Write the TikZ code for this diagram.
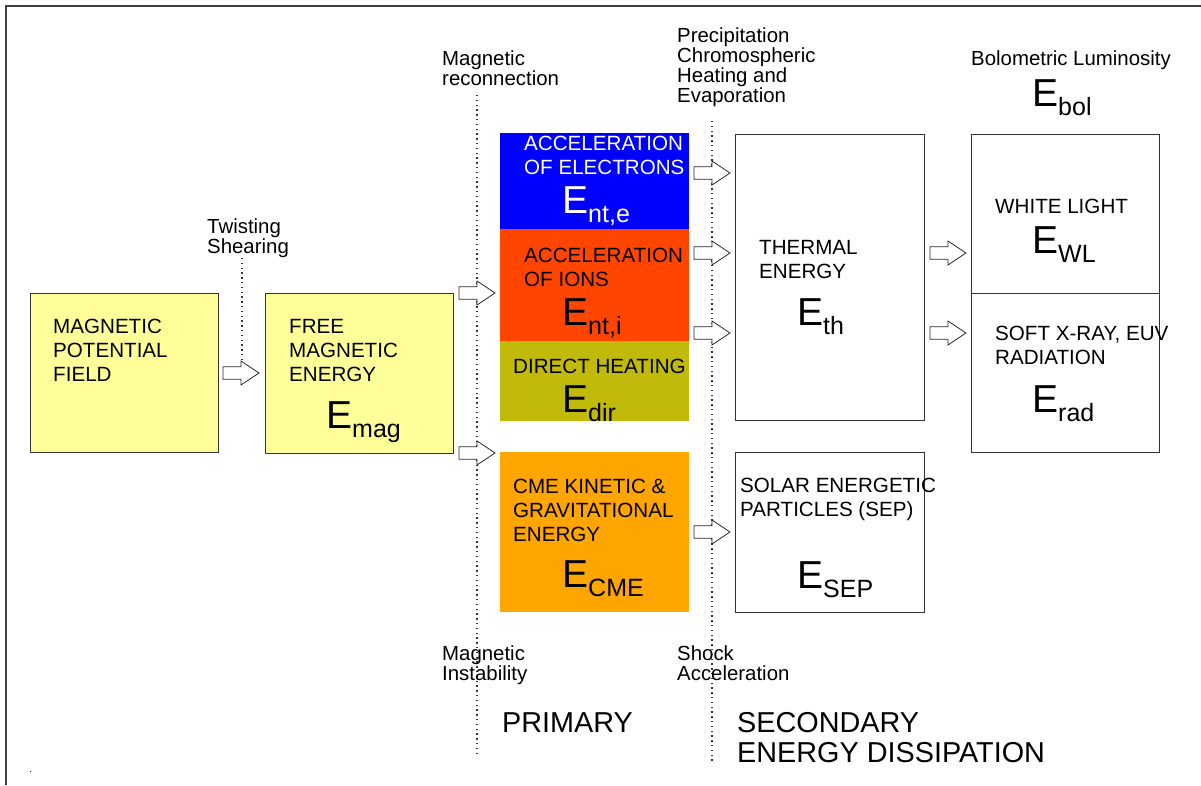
\documentclass[tikz,border=0pt]{standalone}
\usepackage{fontspec}
\setmainfont{Liberation Sans}
\begin{document}
\begin{tikzpicture}[x=1pt,y=-1pt,
  lbl/.style={anchor=base west, inner sep=0, font=\fontsize{20.4}{20}\selectfont, align=left},
  btxt/.style={anchor=base west, inner sep=0, font=\fontsize{20.6}{23.8}\selectfont, align=left},
  bigE/.style={anchor=base west, inner sep=0, font=\fontsize{39}{39}\selectfont},
  head/.style={anchor=base west, inner sep=0, font=\fontsize{28.8}{30}\selectfont, align=left},
  ybox/.style={draw=black!80, line width=0.8pt, fill={rgb,255:red,255;green,255;blue,153}, inner sep=0, anchor=north west},
  wbox/.style={draw=black!80, line width=0.8pt, fill=white, inner sep=0, anchor=north west},
  cbox/.style={draw=none, inner sep=0, anchor=north west},
  dots/.style={line width=1.2pt, dash pattern=on 1.3pt off 3.5pt, black!80},
  barrow/.pic={\draw[fill=white, draw=black!85, line width=0.8pt]
     (0,-6.3) -- (18,-6.3) -- (18,-12) -- (36,0) -- (18,12) -- (18,6.3) -- (0,6.3) -- cycle;}
]
\useasboundingbox (0,0) rectangle (1201,785);
\definecolor{cblue}{RGB}{0,0,255}
\definecolor{cred}{RGB}{255,69,0}
\definecolor{colive}{RGB}{194,186,10}
\definecolor{corange}{RGB}{255,165,0}
% frame
\draw[line width=1.6pt, black!75] (6,785) -- (6,6) -- (1201,6);
\fill[black] (29.5,770.5) rectangle (31,772);
% dotted guide lines
\coordinate (t1) at (242,258); \coordinate (t2) at (242,362);
\coordinate (m1) at (477,95);  \coordinate (m2) at (477,756);
\coordinate (p1) at (712,121); \coordinate (p2) at (712,764);
\draw[dots] (t1) -- (t2);
\draw[dots] (m1) -- (m2);
\draw[dots] (p1) -- (p2);
% boxes
\node[ybox, minimum width=188, minimum height=159] (mpf) at (30,293) {};
\node[ybox, minimum width=188, minimum height=160] (fme) at (265,293) {};
\node[cbox, fill=cblue, minimum width=189, minimum height=96] (ele) at (500,133) {};
\node[cbox, fill=cred, minimum width=189, minimum height=112] (ion) at (500,229) {};
\node[cbox, fill=colive, minimum width=189, minimum height=80] (dir) at (500,341) {};
\node[cbox, fill=corange, minimum width=189, minimum height=160] (cme) at (500,452) {};
\node[wbox, minimum width=189, minimum height=286] (th) at (735,134) {};
\node[wbox, minimum width=189, minimum height=160] (sep) at (735,452) {};
\node[wbox, minimum width=188, minimum height=159] (wl) at (971,134) {};
\node[wbox, minimum width=188, minimum height=159] (rad) at (971,293) {};
% block arrows
\pic at (223,373) {barrow};
\pic at (459,293) {barrow};
\pic at (459,453) {barrow};
\pic at (694,173) {barrow};
\pic at (694,253) {barrow};
\pic at (694,333) {barrow};
\pic at (694,532) {barrow};
\pic at (930,253) {barrow};
\pic at (930,333) {barrow};
% box texts (anchor = baseline of last line)
\node[btxt] (mpft) at (53,381) {MAGNETIC\\POTENTIAL\\FIELD};
\node[btxt] (fmet) at (289,381) {FREE\\MAGNETIC\\ENERGY};
\node[bigE] (emag) at (326,428) {E\raisebox{-9.5pt}{\fontsize{25}{25}\selectfont mag}};
\node[btxt, text=white] (elet) at (524,174) {ACCELERATION\\OF ELECTRONS};
\node[bigE, text=white] (ente) at (562,213) {E\raisebox{-9.5pt}{\fontsize{25}{25}\selectfont nt,e}};
\node[btxt] (iont) at (524,286) {ACCELERATION\\OF IONS};
\node[bigE] (enti) at (562,325) {E\raisebox{-9.5pt}{\fontsize{25}{25}\selectfont nt,i}};
\node[btxt] (dirt) at (513,373) {DIRECT HEATING};
\node[bigE] (edir) at (562,412) {E\raisebox{-9.5pt}{\fontsize{25}{25}\selectfont dir}};
\node[btxt] (cmet) at (513,541) {CME KINETIC \&\\GRAVITATIONAL\\ENERGY};
\node[bigE] (ecme) at (562,587) {E\raisebox{-9.5pt}{\fontsize{25}{25}\selectfont CME}};
\node[btxt] (tht) at (759,278) {THERMAL\\ENERGY};
\node[bigE] (eth) at (797,325) {E\raisebox{-9.5pt}{\fontsize{25}{25}\selectfont th}};
\node[btxt] (sept) at (740,516) {SOLAR ENERGETIC\\PARTICLES (SEP)};
\node[bigE] (esep) at (797,588) {E\raisebox{-9.5pt}{\fontsize{25}{25}\selectfont SEP}};
\node[btxt] (wlt) at (995,213) {WHITE LIGHT};
\node[bigE] (ewl) at (1032,253) {E\raisebox{-9.5pt}{\fontsize{25}{25}\selectfont WL}};
\node[btxt] (radt) at (995,364) {SOFT X-RAY, EUV\\RADIATION};
\node[bigE] (erad) at (1032,412) {E\raisebox{-9.5pt}{\fontsize{25}{25}\selectfont rad}};
% labels
\node[lbl] (bol) at (971,65) {Bolometric Luminosity};
\node[bigE] (ebol) at (1032,106) {E\raisebox{-9.5pt}{\fontsize{25}{25}\selectfont bol}};
\node[lbl] (tw) at (207,253) {Twisting\\Shearing};
\node[lbl] (mr) at (442,85) {Magnetic\\reconnection};
\node[lbl] (pc) at (677,102) {Precipitation\\Chromospheric\\Heating and\\Evaporation};
\node[lbl] (mi) at (442,680) {Magnetic\\Instability};
\node[lbl] (sa) at (677,680) {Shock\\Acceleration};
\node[head] (prim) at (502,732) {PRIMARY};
\node[head] (sec) at (737,762) {SECONDARY\\ENERGY DISSIPATION};
\end{tikzpicture}
\end{document}
